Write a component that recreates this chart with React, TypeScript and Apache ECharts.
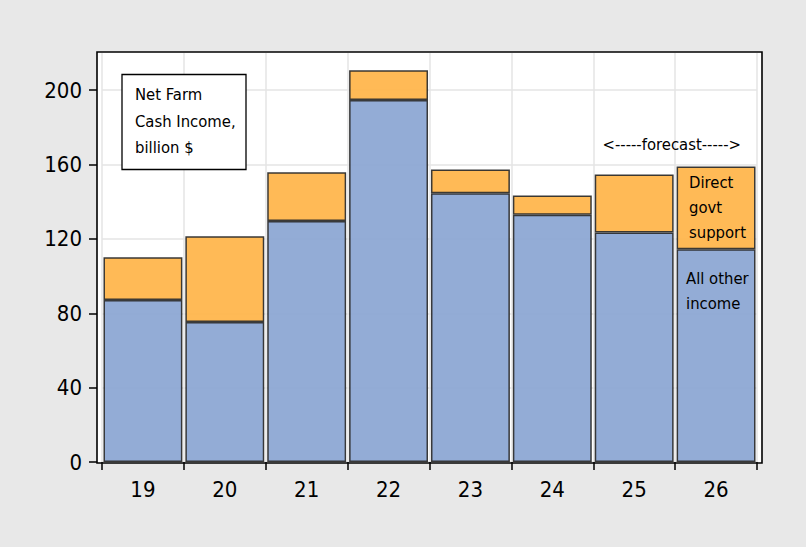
import React, { useEffect, useRef } from "react";
import * as echarts from "echarts";

const years = ["19", "20", "21", "22", "23", "24", "25", "26"];
const allOtherIncome = [87.1, 75.3, 129.6, 194.7, 144.5, 133.0, 123.5, 114.4];
const directGovtSupport = [23.0, 46.1, 26.2, 16.0, 12.9, 10.4, 31.2, 44.5];
const yTicks = [0, 40, 80, 120, 160, 200];

const FONT = "'DejaVu Sans Condensed', 'Liberation Sans', Arial, sans-serif";

export default function App() {
  const ref = useRef<HTMLDivElement>(null);
  useEffect(() => {
    document.body.style.margin = "0";
    const chart = echarts.init(ref.current!, null, { renderer: "svg" });
    const txt = (text: string, x: number, y: number) => ({
      type: "text",
      x,
      y,
      z: 110,
      style: {
        text,
        fill: "#000",
        font: `16.5px ${FONT}`,
        textVerticalAlign: "middle",
        textAlign: "left",
      },
    });
    chart.setOption({
      animation: false,
      backgroundColor: "#e8e8e8",
      grid: { left: 102, right: 49, top: 53, bottom: 85 },
      xAxis: {
        type: "category",
        data: years,
        boundaryGap: true,
        axisLine: { show: false },
        axisTick: { show: true, length: 8, lineStyle: { color: "#000", width: 1.5 } },
        axisLabel: { color: "#000", fontSize: 22, fontFamily: FONT, margin: 16 },
        splitLine: { show: true, lineStyle: { color: "#e4e4e4", width: 1.5 } },
      },
      yAxis: {
        type: "value",
        min: 0,
        max: 220,
        interval: 40,
        offset: 5,
        axisLine: { show: false },
        axisTick: {
          show: true,
          length: 8,
          customValues: yTicks,
          lineStyle: { color: "#000", width: 1.5 },
        },
        axisLabel: {
          color: "#000",
          fontSize: 22,
          fontFamily: FONT,
          margin: 15,
          customValues: yTicks,
        },
        splitLine: { show: true, lineStyle: { color: "#e4e4e4", width: 1.5 } },
      },
      graphic: [
        {
          type: "rect",
          z: -10,
          shape: { x: 97, y: 52, width: 665, height: 411 },
          style: { fill: "#fff", stroke: "none" },
        },
        {
          type: "rect",
          z: 100,
          shape: { x: 97, y: 52, width: 665, height: 411 },
          style: { fill: "none", stroke: "#000", lineWidth: 1.6 },
        },
        {
          type: "rect",
          z: 100,
          shape: { x: 122, y: 74.5, width: 124, height: 95 },
          style: { fill: "#fff", stroke: "#000", lineWidth: 1.3 },
        },
        txt("Net Farm", 135, 94.5),
        txt("Cash Income,", 135, 121),
        txt("billion $", 135, 147.5),
        txt("<-----forecast----->", 602.5, 144.5),
        txt("Direct", 689, 182),
        txt("govt", 689, 207),
        txt("support", 689, 232),
        txt("All other", 686, 278.5),
        txt("income", 686, 303.5),
      ],
      series: [
        {
          name: "All other income",
          type: "bar",
          stack: "total",
          data: allOtherIncome,
          barCategoryGap: "3.6%",
          itemStyle: { color: "#8aa5d3", opacity: 0.92, borderColor: "#2a2a2a", borderWidth: 1.5 },
        },
        {
          name: "Direct govt support",
          type: "bar",
          stack: "total",
          data: directGovtSupport,
          barCategoryGap: "3.6%",
          itemStyle: { color: "#ffb448", opacity: 0.92, borderColor: "#2a2a2a", borderWidth: 1.5 },
        },
      ],
    });
    return () => chart.dispose();
  }, []);
  return <div ref={ref} style={{ width: 806, height: 547 }} />;
}
